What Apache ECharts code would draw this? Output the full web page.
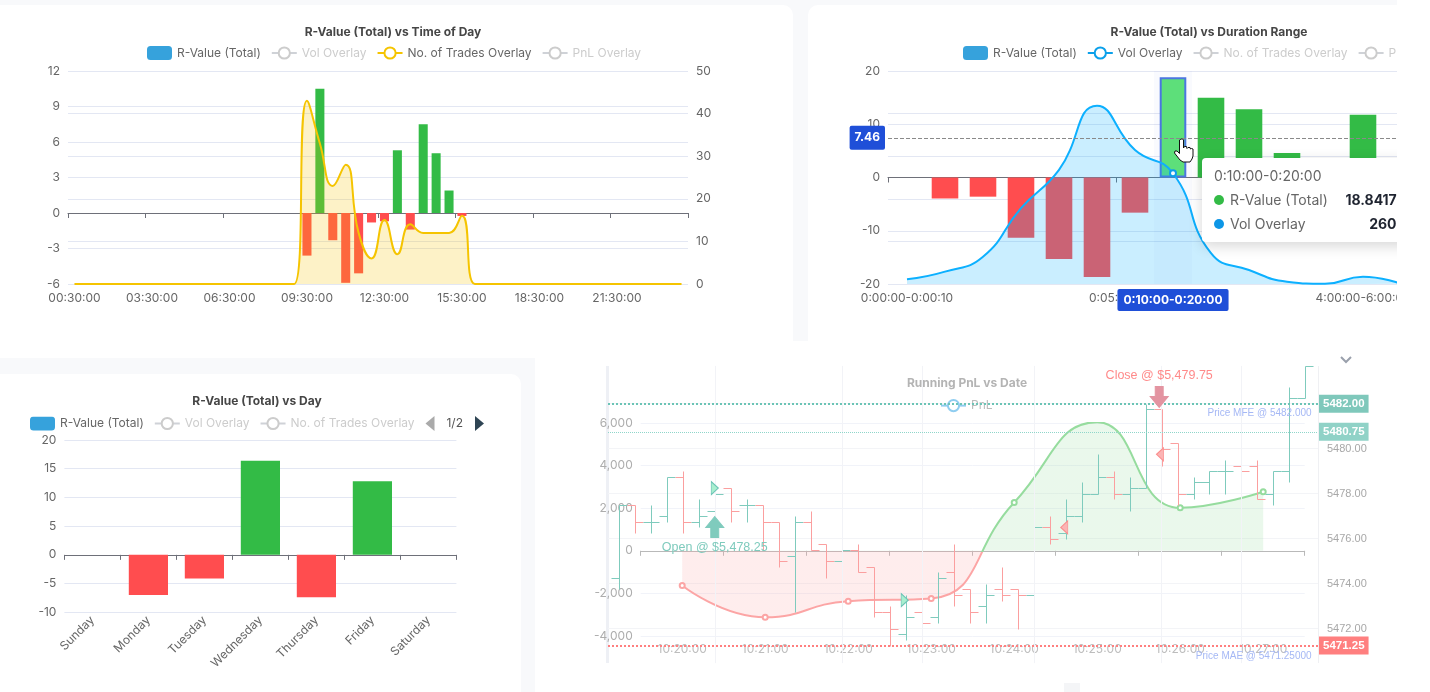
<!DOCTYPE html>
<html>
<head>
<meta charset="utf-8">
<title>R-Value dashboard</title>
<script src="https://cdn.jsdelivr.net/npm/echarts@6/dist/echarts.min.js"></script>
<style>
  html, body { margin: 0; width: 1430px; height: 692px; overflow: hidden; background: #f8f9fb; }
  .card { position: absolute; background: #fff; overflow: hidden; }
  #time-card { left: 0; top: 5px; width: 793px; height: 353px; border-radius: 0 10px 0 0; }
  #duration-card { left: 808px; top: 5px; width: 589px; height: 336px; border-radius: 10px 0 0 0; }
  #right-blank { left: 1397px; top: 0; width: 33px; height: 341px; }
  #day-card { left: 0; top: 374px; width: 521px; height: 318px; border-radius: 0 10px 0 0; }
  #pnl-card { left: 535px; top: 341px; width: 895px; height: 351px; }
  #time-chart { width: 793px; height: 353px; }
  #duration-chart { width: 700px; height: 336px; }
  #day-chart { width: 521px; height: 318px; }
  #pnl-chart { width: 895px; height: 351px; }
</style>
</head>
<body>
<div class="card" id="time-card"><div id="time-chart"></div></div>
<div class="card" id="duration-card"><div id="duration-chart"></div></div>
<div class="card" id="right-blank"></div>
<div class="card" id="day-card"><div id="day-chart"></div></div>
<div class="card" id="pnl-card"><div id="pnl-chart"></div></div>
<script>
// time of day chart
const timeLabels = ['00:30:00','01:00:00','01:30:00','02:00:00','02:30:00','03:00:00','03:30:00','04:00:00','04:30:00','05:00:00','05:30:00','06:00:00','06:30:00','07:00:00','07:30:00','08:00:00','08:30:00','09:00:00','09:30:00','10:00:00','10:30:00','11:00:00','11:30:00','12:00:00','12:30:00','13:00:00','13:30:00','14:00:00','14:30:00','15:00:00','15:30:00','16:00:00','16:30:00','17:00:00','17:30:00','18:00:00','18:30:00','19:00:00','19:30:00','20:00:00','20:30:00','21:00:00','21:30:00','22:00:00','22:30:00','23:00:00','23:30:00','00:00:00'];
const timeRValues = [0,0,0,0,0,0,0,0,0,0,0,0,0,0,0,0,0,0,-3.6,10.5,-2.3,-5.9,-5.1,-0.8,-0.7,5.3,-1.4,7.5,5.05,1.9,-0.25,0,0,0,0,0,0,0,0,0,0,0,0,0,0,0,0,0];
const timeTrades = [0,0,0,0,0,0,0,0,0,0,0,0,0,0,0,0,0,0,43,33,23,28,12,6,15,7,14,12,12,12,16,0,0,0,0,0,0,0,0,0,0,0,0,0,0,0,0,0];

// duration chart
const durationLabels = ['0:00:00-0:00:10','0:00:10-0:00:30','0:00:30-0:01:00','0:01:00-0:02:00','0:02:00-0:03:00','0:03:00-0:05:00','0:05:00-0:10:00','0:10:00-0:20:00','0:20:00-0:40:00','0:40:00-1:00:00','1:00:00-2:00:00','2:00:00-4:00:00','4:00:00-6:00:00','6:00:00-8:00:00'];
const durationRValues = [0,-3.94,-3.6,-11.3,-15.3,-18.7,-6.6,18.8417,15,12.8,4.6,0,11.8,0];
const durationVol = [110,290,640,1780,2680,4185,3145,2600,725,330,55,5,170,5];
const durationSelected = 7;

// day chart
const dayLabels = ['Sunday','Monday','Tuesday','Wednesday','Thursday','Friday','Saturday'];
const dayRValues = [0,-7,-4.1,16.4,-7.4,12.8,0];

// running pnl
const pnlDates = ['10:20:00','10:21:00','10:22:00','10:23:00','10:24:00','10:25:00','10:26:00','10:27:00'];
const pnlValues = [-1630,-3120,-2365,-2240,2270,6040,2020,2770];

// price bars behind the pnl chart
const barOpen = [5474.25,5477.5,5476.75,5477,5478.75,5476.75,5477.25,5478.25,5477.5,5477.5,5476.75,5475.25,5476.75,5475.75,5475,5475.5,5474.75,5472.75,5471.75,5472.75,5472.5,5474.5,5473.75,5473,5473.75,5473.75,5473.5,5476.5,5476.25,5477,5478,5478.75,5478,5478.25,5481.75,5480.25,5478,5478.5,5479,5479.25,5479.25,5478,5479,5482.25];
const barHigh = [5477.5,5477.5,5477.5,5478.75,5479,5477.75,5479.5,5478.25,5477.75,5477.5,5476.75,5477,5477.25,5475.75,5476.5,5475.75,5474.75,5473,5473.5,5473.25,5474.5,5475.75,5473.75,5474,5474.75,5473.75,5477.25,5477,5477.75,5478.5,5479.75,5479,5478.75,5482,5481.75,5480.25,5478.75,5479,5479.5,5480.25,5479.5,5479,5482.75,5483.68];
const barLow = [5473.75,5476.25,5476.25,5476.75,5476.25,5476.5,5477.25,5476.75,5476.75,5475.5,5474.75,5472.75,5475.5,5474.25,5474.5,5474.5,5472.5,5471.25,5471.5,5472.25,5472.25,5473,5472.25,5472.25,5473.25,5472,5473.25,5475.75,5476,5476.75,5478,5477.75,5477.25,5478.25,5479.25,5477.5,5477.75,5478,5478,5479,5477.75,5477.5,5478.5,5482.25];
const barClose = [5477.5,5476.75,5476.75,5478.75,5476.75,5477,5478,5477.25,5477.5,5476.75,5475,5476.75,5475.5,5475,5475.5,5474.5,5472.75,5472,5472.5,5472.25,5474.25,5473.5,5472.75,5473.5,5473.5,5473.5,5476.5,5476,5477,5478,5478.75,5478,5478.25,5481.75,5480,5478,5478.5,5479,5479,5479,5477.75,5479,5482.25,5483.68];
const barGridLines = [6,14,19,26,34,39];

const FONT = 'Inter';
const PRICE_FONT = 'Liberation Sans';
const GREEN = '#33bb46';
const RED = '#ff4d4f';
const VOL_BLUE = '#0ba0ea';
const GRID_COLOR = '#e3e7f3';
const LABEL_COLOR = '#666';
const PNL_GREEN = '#96dc9e';
const PNL_RED = '#fca5a5';
const OVERLAY_NAMES = ['Vol Overlay', 'No. of Trades Overlay', 'PnL Overlay'];

function rValueBars(values) {
  return values.map((v) => ({ value: v, itemStyle: { color: v >= 0 ? GREEN : RED } }));
}

function legendFor(extra, selected) {
  return Object.assign({
    data: [{ name: 'R-Value (Total)', icon: 'roundRect' }].concat(OVERLAY_NAMES),
    selected: selected,
    itemWidth: 25,
    itemHeight: 14,
    itemGap: 10,
    inactiveColor: '#ccc',
    textStyle: { fontFamily: FONT, fontSize: 12, color: '#666' }
  }, extra);
}

function titleFor(text, left, top) {
  return {
    text: text,
    left: left,
    top: top,
    textAlign: 'center',
    textStyle: { fontFamily: FONT, fontSize: 12, fontWeight: 'bold', color: '#464646' }
  };
}

// the line and ticks sit on zero, the labels stay below the grid, so two x axes
function zeroAxis(labels, interval) {
  return {
    type: 'category',
    data: labels,
    axisLine: { onZero: true, lineStyle: { color: '#6e7079' } },
    axisTick: { show: true, interval: interval, length: 5, lineStyle: { color: '#6e7079' } },
    axisLabel: { show: false },
    axisPointer: { show: false }
  };
}

function labelAxis(labels, interval, margin, rotate) {
  return {
    type: 'category',
    data: labels,
    position: 'bottom',
    axisLine: { show: false, onZero: false },
    axisTick: { show: false },
    axisLabel: {
      interval: interval, margin: margin, rotate: rotate || 0,
      fontFamily: FONT, fontSize: 12, color: LABEL_COLOR, hideOverlap: false
    }
  };
}

function valueAxis(min, max, interval) {
  return {
    type: 'value',
    min: min,
    max: max,
    interval: interval,
    axisLine: { show: false, onZero: false },
    axisTick: { show: false },
    axisLabel: { fontFamily: FONT, fontSize: 12, color: LABEL_COLOR, margin: 8 },
    splitLine: { show: true, lineStyle: { color: GRID_COLOR } }
  };
}

function barSeries(values) {
  return {
    name: 'R-Value (Total)',
    type: 'bar',
    xAxisIndex: 1,
    yAxisIndex: 0,
    barWidth: '70%',
    itemStyle: { color: '#36a2dc' },
    data: values
  };
}

function overlaySeries(name, color, data) {
  return {
    name: name,
    type: 'line',
    xAxisIndex: 1,
    yAxisIndex: data ? 1 : 0,
    smooth: true,
    symbol: 'emptyCircle',
    symbolSize: 6,
    showSymbol: false,
    emphasis: { scale: false },
    itemStyle: { color: color },
    lineStyle: { color: color, width: 2 },
    areaStyle: data ? { color: color, opacity: 0.22 } : undefined,
    z: 3,
    data: data || []
  };
}

// time of day
var timeChart = echarts.init(document.getElementById('time-chart'));
timeChart.setOption({
  animation: false,
  title: titleFor('R-Value (Total) vs Time of Day', 388, 16),
  legend: legendFor({ left: 142, top: 36 }, { 'Vol Overlay': false, 'PnL Overlay': false }),
  grid: { left: 68, top: 66, width: 620, height: 213 },
  xAxis: [zeroAxis(timeLabels, 5), labelAxis(timeLabels, 5, 8)],
  yAxis: [valueAxis(-6, 12, 3), valueAxis(0, 50, 10)],
  series: [
    barSeries(rValueBars(timeRValues)),
    overlaySeries('Vol Overlay', VOL_BLUE),
    overlaySeries('No. of Trades Overlay', '#f5c400', timeTrades),
    overlaySeries('PnL Overlay', '#8884d8')
  ]
});

// duration range, clipped by the card on the right
var durationBars = rValueBars(durationRValues);
durationBars[durationSelected].itemStyle = { color: '#55cf6c', borderColor: '#4a76e0', borderWidth: 2 };

var durationX = labelAxis(durationLabels, 5, 8);
durationX.axisPointer = {
  show: true,
  type: 'shadow',
  shadowStyle: { color: 'rgba(100,130,220,0.04)' },
  label: {
    show: true, margin: 5, backgroundColor: '#1f4fd8', color: '#fff', borderRadius: 2,
    fontFamily: FONT, fontSize: 12, fontWeight: 'bold', padding: [5, 6]
  }
};
var durationY = valueAxis(-20, 20, 10);
durationY.axisPointer = {
  show: true,
  type: 'line',
  snap: false,
  triggerTooltip: false,
  lineStyle: { color: '#8a8a8a', type: 'dashed', width: 1 },
  label: {
    show: true, precision: 2, backgroundColor: '#1f4fd8', color: '#fff', borderRadius: 2,
    fontFamily: FONT, fontSize: 12, fontWeight: 'bold', padding: [6, 5]
  }
};
var durationVolAxis = valueAxis(0, 5000, 1000);
durationVolAxis.axisPointer = { show: false };

function durationTooltip(params) {
  var row = (color, name, value) =>
    '<div style="display:flex;align-items:center;height:24px">' +
    '<span style="width:10px;height:10px;border-radius:50%;background:' + color + ';margin-right:6px"></span>' +
    '<span style="color:#666">' + name + '</span>' +
    '<b style="margin-left:auto;color:#1f2430">' + value + '</b></div>';
  return '<div style="width:192px;font-family:Inter;font-size:14px;line-height:24px">' +
    '<div style="color:#666">' + durationLabels[durationSelected] + '</div>' +
    row(GREEN, 'R-Value (Total)', '18.84170') +
    row('#0d96e6', 'Vol Overlay', '2600') + '</div>';
}

// mouse cursor over the selected bar
const HAND_POINTS = [[7,0],[8.5,0],[9.5,1],[9.5,9],[10.5,7.5],[12.5,7.5],[13,9.5],[14,8.5],[16,8.5],[16.5,10],[17.5,9.5],[19,10],[19,17],[18,20],[16,23],[9,23],[6,21],[0.5,14],[1,12],[3,12],[5.5,14.5],[5.5,1]];

var durationChart = echarts.init(document.getElementById('duration-chart'));
durationChart.setOption({
  animation: false,
  title: titleFor('R-Value (Total) vs Duration Range', 396, 16),
  legend: legendFor({ left: 150, top: 36 }, { 'No. of Trades Overlay': false, 'PnL Overlay': false }),
  tooltip: {
    trigger: 'axis',
    alwaysShowContent: true,
    transitionDuration: 0,
    position: [394, 153],
    backgroundColor: '#fff',
    borderWidth: 0,
    padding: [6, 12],
    extraCssText: 'box-shadow:0 4px 14px rgba(0,0,0,.16);border-radius:4px;',
    formatter: durationTooltip
  },
  grid: { left: 80, top: 66, width: 532, height: 213 },
  xAxis: [zeroAxis(durationLabels, 5), durationX],
  yAxis: [durationY, durationVolAxis],
  series: [
    barSeries(durationBars),
    overlaySeries('Vol Overlay', VOL_BLUE, durationVol),
    overlaySeries('No. of Trades Overlay', '#f5c400'),
    overlaySeries('PnL Overlay', '#8884d8')
  ],
  graphic: [{
    type: 'polygon',
    z: 100,
    x: 366,
    y: 134,
    shape: { points: HAND_POINTS },
    style: { fill: '#fff', stroke: '#111', lineWidth: 1 }
  }]
});
durationChart.dispatchAction({ type: 'showTip', x: 372, y: 132.8 });

// day of week
var dayChart = echarts.init(document.getElementById('day-chart'));
dayChart.setOption({
  animation: false,
  title: titleFor('R-Value (Total) vs Day', 252, 16),
  legend: legendFor({
    type: 'scroll', left: 25, top: 37, width: 454,
    pageIconSize: 15, pageButtonItemGap: 5, pageIconColor: '#2f4554', pageIconInactiveColor: '#aaa',
    pageTextStyle: { fontFamily: FONT, fontSize: 12, color: '#555' }
  }, { 'Vol Overlay': false, 'No. of Trades Overlay': false, 'PnL Overlay': false }),
  grid: { left: 64.4, top: 66, width: 392, height: 172.3 },
  xAxis: [zeroAxis(dayLabels, 0), labelAxis(dayLabels, 0, 6, 45)],
  yAxis: [valueAxis(-10, 20, 5)],
  series: [
    barSeries(rValueBars(dayRValues)),
    overlaySeries('Vol Overlay', VOL_BLUE),
    overlaySeries('No. of Trades Overlay', '#f5c400'),
    overlaySeries('PnL Overlay', '#8884d8')
  ]
});

// running pnl with the price bars on top of it
function renderPriceBar(params, api) {
  var i = api.value(0);
  var up = api.value(4) >= api.value(1);
  var stroke = up ? '#7fcbbd' : '#fb9f9f';
  var point = (offset, price) => {
    var c = api.coord([i, price]);
    return [Math.round(c[0]) + offset + 0.5, Math.round(c[1]) + 0.5];
  };
  var line = (a, b) => ({
    type: 'line',
    shape: { x1: a[0], y1: a[1], x2: b[0], y2: b[1] },
    style: { stroke: stroke, lineWidth: 1 }
  });
  return {
    type: 'group',
    children: [
      line(point(0, api.value(2)), point(0, api.value(3))),
      line(point(-8, api.value(1)), point(0, api.value(1))),
      line(point(0, api.value(4)), point(8, api.value(4)))
    ]
  };
}

function priceTag(value, color, lineColor, width) {
  return {
    yAxis: value,
    lineStyle: { color: lineColor, type: 'dotted', width: width },
    label: {
      show: true, position: 'end', distance: 1, formatter: value.toFixed(2),
      backgroundColor: color, color: '#fff', padding: [3, 4],
      fontFamily: PRICE_FONT, fontSize: 11.5, fontWeight: 'bold'
    }
  };
}

// vertical price grid line, stops short of the axis ends
function barGridLine(i) {
  var style = { color: '#f2f3f7', type: 'solid', width: 1 };
  return [
    { xAxis: i, yAxis: 5470.47, label: { show: false }, lineStyle: style },
    { xAxis: i, yAxis: 5483.68 }
  ];
}

function noteText(coord, text, color, fontSize, align) {
  return {
    coord: coord,
    symbol: 'circle',
    symbolSize: 1,
    itemStyle: { color: 'transparent' },
    label: { show: true, position: 'inside', formatter: text, color: color, fontFamily: PRICE_FONT, fontSize: fontSize, align: align || 'center' }
  };
}

function fillMarker(coord, path, size, color, border) {
  return { coord: coord, symbol: path, symbolSize: size, itemStyle: { color: color, borderColor: border, borderWidth: 1 }, label: { show: false } };
}

const ARROW_UP = 'path://M9 0L18 11H13V21H5V11H0Z';
const ARROW_DOWN = 'path://M5 0H13V10H18L9 21L0 10H5Z';
const TRI_RIGHT = 'path://M0 0L7 6.5L0 13Z';
const TRI_LEFT = 'path://M7 0L0 6.5L7 13Z';

var priceRows = barOpen.map((o, i) => [i, o, barHigh[i], barLow[i], barClose[i]]);

// line and area change colour where the pnl crosses zero
function pnlGradient() {
  var top = Math.max.apply(null, pnlValues);
  var bottom = Math.min.apply(null, pnlValues);
  var cross = top / (top - bottom);
  return new echarts.graphic.LinearGradient(0, 0, 0, 1, [
    { offset: 0, color: PNL_GREEN },
    { offset: cross, color: PNL_GREEN },
    { offset: cross, color: PNL_RED },
    { offset: 1, color: PNL_RED }
  ]);
}

var pnlChart = echarts.init(document.getElementById('pnl-chart'));
pnlChart.setOption({
  animation: false,
  title: {
    text: 'Running PnL vs Date', left: 427, top: 31, textAlign: 'center',
    textStyle: { fontFamily: FONT, fontSize: 12, fontWeight: 'bold', color: '#b4b4b4' }
  },
  legend: {
    data: [{ name: 'PnL', lineStyle: { color: '#8fcdf0' } }],
    left: 400, top: 53, itemWidth: 25, itemHeight: 14,
    textStyle: { fontFamily: FONT, fontSize: 12, color: '#bbb' }
  },
  grid: [
    { left: 105.7, top: 82, width: 664, height: 213 },
    { left: 73, top: 17.7, width: 710, height: 315 }
  ],
  xAxis: [
    { type: 'category', data: pnlDates, gridIndex: 0,
      axisLine: { onZero: true, lineStyle: { color: '#b9b9b9' } },
      axisTick: { show: true, length: 5, lineStyle: { color: '#b9b9b9' } },
      axisLabel: { show: false } },
    { type: 'category', data: pnlDates, gridIndex: 0, position: 'bottom',
      axisLine: { show: false, onZero: false }, axisTick: { show: false },
      axisLabel: { margin: 7, fontFamily: FONT, fontSize: 12, color: '#bdbdbd' } },
    { type: 'value', gridIndex: 1, min: -0.69, max: 43.8, show: false, splitLine: { show: false } }
  ],
  yAxis: [
    { type: 'value', gridIndex: 0, min: -4000, max: 6000, interval: 2000,
      axisLine: { show: false, onZero: false }, axisTick: { show: false },
      axisLabel: { fontFamily: FONT, fontSize: 12, color: '#adadad', margin: 8 },
      splitLine: { lineStyle: { color: '#f1f3f9' } } },
    { type: 'value', gridIndex: 1, position: 'right', min: 5470, max: 5484, interval: 2,
      axisLine: { show: false }, axisTick: { show: false },
      axisLabel: {
        fontFamily: PRICE_FONT, fontSize: 11, color: '#a8a8a8', margin: 9,
        formatter: (v) => (v === 5470 || v >= 5482) ? '' : v.toFixed(2)
      },
      splitLine: { showMinLine: false, showMaxLine: false, lineStyle: { color: '#f3f4f7' } } }
  ],
  series: [
    {
      name: 'PnL',
      type: 'line',
      xAxisIndex: 1,
      yAxisIndex: 0,
      smooth: true,
      symbol: 'emptyCircle',
      symbolSize: 5,
      showSymbol: true,
      itemStyle: { color: '#8fcdf0' },
      lineStyle: { width: 2, color: pnlGradient() },
      areaStyle: { opacity: 0.2, color: pnlGradient() },
      z: 2,
      data: pnlValues.map((v) => ({ value: v, itemStyle: { color: v >= 0 ? PNL_GREEN : PNL_RED, borderWidth: 1.5 } }))
    },
    {
      name: 'Price',
      type: 'custom',
      xAxisIndex: 2,
      yAxisIndex: 1,
      renderItem: renderPriceBar,
      encode: { x: 0, y: [1, 2, 3, 4] },
      clip: false,
      z: 3,
      data: priceRows,
      markLine: {
        silent: true,
        symbol: 'none',
        data: barGridLines.map(barGridLine).concat([
          priceTag(5482, '#7fc8bb', '#6cc4b6', 2),
          priceTag(5480.75, '#90d2c7', '#8fd6ca', 1),
          priceTag(5471.25, '#ff7f7f', '#ff7f7f', 2)
        ])
      },
      markPoint: {
        silent: true,
        data: [
          fillMarker([6, 5476.52], ARROW_UP, [18, 21], '#7fcbbd', '#7fcbbd'),
          fillMarker([33.85, 5482.3], ARROW_DOWN, [18, 21], '#e394a1', '#e394a1'),
          fillMarker([6, 5478.25], TRI_RIGHT, [7, 13], '#a8efcf', '#6cc4b6'),
          fillMarker([17.9, 5473.27], TRI_RIGHT, [7, 13], '#a8efcf', '#6cc4b6'),
          fillMarker([27.9, 5476.5], TRI_LEFT, [7, 13], '#fbb4b4', '#fb8f8f'),
          fillMarker([33.9, 5479.75], TRI_LEFT, [7, 13], '#fbb4b4', '#fb8f8f'),
          noteText([6, 5475.6], 'Open @ $5,478.25', '#7fcbbd', 12.5),
          noteText([33.85, 5483.23], 'Close @ $5,479.75', '#ff8a8a', 12.5),
          noteText([43.4, 5481.59], 'Price MFE @ 5482.000', '#a5b8f5', 10, 'right'),
          noteText([43.4, 5470.78], 'Price MAE @ 5471.25000', '#a5b8f5', 10, 'right')
        ]
      }
    }
  ],
  graphic: [
    { type: 'rect', shape: { x: 71, y: 25, width: 3, height: 297 }, style: { fill: '#eef0f5' } },
    { type: 'rect', shape: { x: 783, y: 25, width: 1, height: 297 }, style: { fill: '#eff0f3' } },
    { type: 'polyline', shape: { points: [[806, 16], [811, 21], [816, 16]] }, style: { stroke: '#9aa0ac', fill: null, lineWidth: 2 } },
    { type: 'rect', shape: { x: 529, y: 342, width: 16, height: 9 }, style: { fill: '#f4f5f7' } }
  ]
});
</script>
</body>
</html>
